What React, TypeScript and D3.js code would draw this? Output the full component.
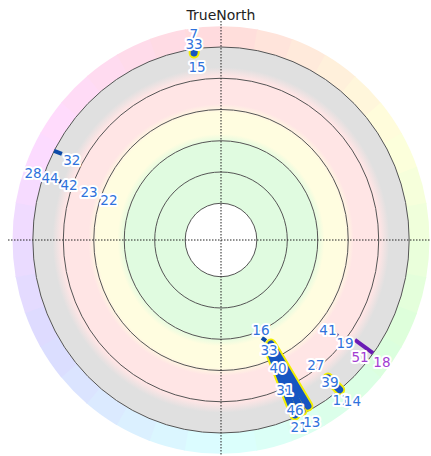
import React, { useEffect, useRef } from "react";
import * as d3 from "d3";

// elevation rings drawn on the sky plot
const ringElevations = [75, 60, 45, 30, 15, 0];

// satellite labels (azimuth / elevation in degrees)
const labelIds = ["7", "33", "15", "32", "28", "44", "42", "23", "22", "16", "33", "40", "31", "46", "21", "13", "41", "19", "51", "18", "27", "39", "11", "14"];
const labelAz = [352.3, 352.0, 351.9, 297.6, 289.2, 289.5, 289.4, 289.5, 289.2, 155.5, 155.9, 155.4, 156.4, 155.9, 156.8, 152.9, 129.4, 129.0, 129.4, 126.5, 142.1, 141.8, 142.4, 140.0];
const labelEl = [-7.2, -2.4, 8.8, 9.8, -5.3, 3.4, 13.3, 23.7, 34.2, 45.2, 34.8, 25.1, 14.1, 3.3, -5.0, -5.5, 24.5, 14.1, 4.1, -5.9, 16.6, 5.9, -4.3, -8.0];
const labelSystem = ["G", "G", "G", "G", "G", "G", "G", "G", "G", "G", "G", "G", "G", "G", "G", "G", "G", "G", "C", "C", "G", "G", "G", "G"];

// satellite tracks: start / end azimuth and elevation
const trackIds = ["15", "32", "44", "16", "46", "31", "13", "41", "18", "39"];
const trackAz = [[351.6, 351.7], [297.5, 297.8], [289.6, 289.5], [156.8, 155.4], [155.7, 156.55], [154.6, 154.1], [153.75, 151.75], [129.0, 128.7], [126.05, 125.94], [141.5, 140.9]];
const trackEl = [[1.9, 1.4], [0.0, 4.1], [6.9, 9.1], [41.5, 39.4], [35.2, 1.1], [36.3, 1.4], [37.0, 2.2], [21.7, 18.9], [11.1, 0.2], [8.0, 0.0]];
const trackSelected = [true, false, false, false, true, true, true, false, false, true];
const trackSystem = ["G", "G", "G", "G", "G", "G", "G", "G", "C", "G"];

const App = () => {
  const svgRef = useRef<SVGSVGElement>(null);
  const svgWidth = 431;
  const svgHeight = 456;

  useEffect(() => {
    const CX = 221;
    const CY = 240;
    const KX = 0.975; // plot is slightly squeezed horizontally

    const svg = d3.select(svgRef.current);
    svg.selectAll("*").remove();

    const r = d3.scaleLinear().domain([90, 0]).range([5.5, 193]);
    const project = (az: number, el: number): [number, number] => {
      const a = (az * Math.PI) / 180;
      return [CX + r(el) * Math.sin(a) * KX, CY - r(el) * Math.cos(a)];
    };

    const defs = svg.append("defs");
    const grad = defs.append("radialGradient").attr("id", "zones");
    const stops: [number, string][] = [
      [0, "#e0fbe0"],
      [0.505, "#e0fbe0"],
      [0.55, "#fffde0"],
      [0.66, "#fffde0"],
      [0.705, "#ffe5e5"],
      [0.845, "#ffe5e5"],
      [0.895, "#e0e0e0"],
      [1, "#e0e0e0"],
    ];
    stops.forEach(([o, c]) => grad.append("stop").attr("offset", o).attr("stop-color", c));

    // outer azimuth colour ring
    const ring = svg.append("g").attr("transform", `translate(${CX},${CY}) scale(${KX},1)`);
    const arc = d3.arc<number>()
      .innerRadius(r(0))
      .outerRadius(r(-10))
      .startAngle((d) => (d * Math.PI) / 180)
      .endAngle((d) => ((d + 10.3) * Math.PI) / 180);
    ring.selectAll("path")
      .data(d3.range(0, 360, 10))
      .enter()
      .append("path")
      .attr("d", (d) => arc(d) as string)
      .attr("fill", (d) => d3.hsl(d + 5, 1, 0.93).toString());

    // elevation zones
    svg.append("ellipse")
      .attr("cx", CX).attr("cy", CY)
      .attr("rx", r(0) * KX).attr("ry", r(0))
      .attr("fill", "url(#zones)");

    svg.append("ellipse")
      .attr("cx", CX).attr("cy", CY)
      .attr("rx", r(75) * KX).attr("ry", r(75))
      .attr("fill", "#fff");

    svg.selectAll("ellipse.ring")
      .data(ringElevations)
      .enter()
      .append("ellipse")
      .attr("class", "ring")
      .attr("cx", CX).attr("cy", CY)
      .attr("rx", (d) => r(d) * KX).attr("ry", (d) => r(d))
      .attr("fill", "none")
      .attr("stroke", "#555")
      .attr("stroke-width", 1);

    // cross hair
    svg.append("line")
      .attr("x1", CX).attr("x2", CX).attr("y1", 21).attr("y2", svgHeight)
      .attr("stroke", "#222").attr("stroke-dasharray", "1.5,1.5");
    svg.append("line")
      .attr("x1", 8).attr("x2", svgWidth).attr("y1", CY).attr("y2", CY)
      .attr("stroke", "#222").attr("stroke-dasharray", "1.5,1.5");

    svg.append("text")
      .attr("x", CX).attr("y", 20)
      .attr("text-anchor", "middle")
      .attr("font-family", "DejaVu Sans, sans-serif")
      .attr("font-size", 14)
      .attr("fill", "#222")
      .text("TrueNorth");

    // tracks
    const tracks = trackIds.map((id, i) => ({
      id,
      pts: trackAz[i].map((az, j) => project(az, trackEl[i][j])),
      selected: trackSelected[i],
      sys: trackSystem[i],
    }));
    const line = d3.line();

    svg.append("g")
      .selectAll("path")
      .data(tracks.filter((t) => t.selected))
      .enter()
      .append("path")
      .attr("d", (d) => line(d.pts) as string)
      .attr("fill", "none")
      .attr("stroke", "#f2ee00")
      .attr("stroke-width", 11)
      .attr("stroke-linecap", "round");

    svg.append("g")
      .selectAll("path")
      .data(tracks)
      .enter()
      .append("path")
      .attr("d", (d) => line(d.pts) as string)
      .attr("fill", "none")
      .attr("stroke", (d) => (d.sys === "C" ? "#6a1bb5" : d.selected ? "#1655c2" : "#0c4aa8"))
      .attr("stroke-width", (d) => (d.selected ? 7 : 4))
      .attr("stroke-linecap", (d) => (d.selected ? "round" : "butt"));

    // labels
    const labels = labelIds.map((id, i) => {
      const [x, y] = project(labelAz[i], labelEl[i]);
      return { id, x, y, sys: labelSystem[i] };
    });
    svg.append("g")
      .selectAll("text")
      .data(labels)
      .enter()
      .append("text")
      .attr("x", (d) => d.x)
      .attr("y", (d) => d.y)
      .attr("text-anchor", "middle")
      .attr("dominant-baseline", "central")
      .attr("font-family", "DejaVu Sans, sans-serif")
      .attr("font-size", 13.5)
      .attr("fill", (d) => (d.sys === "C" ? "#a23ed2" : "#2f72dc"))
      .attr("stroke", "#fff")
      .attr("stroke-width", 4)
      .attr("stroke-linejoin", "round")
      .attr("paint-order", "stroke")
      .text((d) => d.id);
  }, []);

  return (
    <svg
      ref={svgRef}
      width={svgWidth}
      height={svgHeight}
      style={{ position: "absolute", left: 0, top: 0 }}
    />
  );
};

export default App;
